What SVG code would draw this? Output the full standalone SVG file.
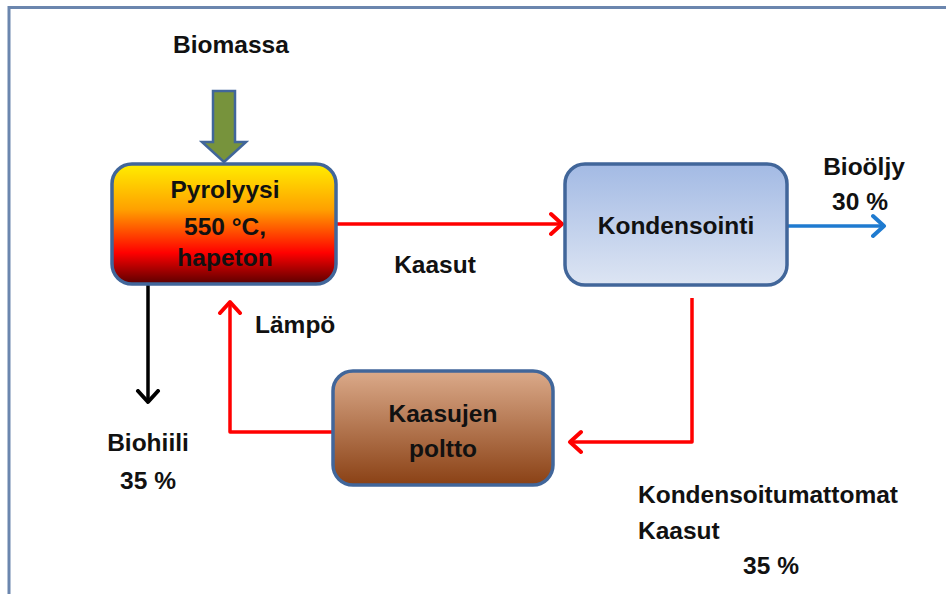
<svg xmlns="http://www.w3.org/2000/svg" width="946" height="594" viewBox="0 0 946 594">
<defs>
<linearGradient id="gPyro" x1="0" y1="0" x2="0" y2="1">
<stop offset="0" stop-color="#FFEE00"/>
<stop offset="0.38" stop-color="#FFA000"/>
<stop offset="0.74" stop-color="#FF0000"/>
<stop offset="1" stop-color="#5A0000"/>
</linearGradient>
<linearGradient id="gKond" x1="0" y1="0" x2="0" y2="1">
<stop offset="0" stop-color="#A3BAE4"/>
<stop offset="1" stop-color="#DDE5F3"/>
</linearGradient>
<linearGradient id="gPolt" x1="0" y1="0" x2="0" y2="1">
<stop offset="0" stop-color="#DBAA8A"/>
<stop offset="1" stop-color="#8A4115"/>
</linearGradient>
<marker id="aRed" markerUnits="userSpaceOnUse" markerWidth="26" markerHeight="26" refX="13" refY="13" orient="auto" viewBox="0 0 26 26">
<path d="M2,3 L13,13 L2,23" fill="none" stroke="#FF0000" stroke-width="4" stroke-linecap="round" stroke-linejoin="round"/>
</marker>
<marker id="aBlue" markerUnits="userSpaceOnUse" markerWidth="26" markerHeight="26" refX="13" refY="13" orient="auto" viewBox="0 0 26 26">
<path d="M2,3 L13,13 L2,23" fill="none" stroke="#1F7BD0" stroke-width="4" stroke-linecap="round" stroke-linejoin="round"/>
</marker>
<marker id="aBlack" markerUnits="userSpaceOnUse" markerWidth="26" markerHeight="26" refX="13" refY="13" orient="auto" viewBox="0 0 26 26">
<path d="M2,3 L13,13 L2,23" fill="none" stroke="#000" stroke-width="4" stroke-linecap="round" stroke-linejoin="round"/>
</marker>
</defs>
<style>
.t{font-family:"Liberation Sans",Arial,sans-serif;font-weight:bold;font-size:24.5px;fill:#111;}
.m{text-anchor:middle;}
.box{stroke:#41669A;stroke-width:3.5;}
.c{fill:none;stroke-width:3.5;stroke-linejoin:round;}
</style>
<rect x="0" y="0" width="946" height="594" fill="#fff"/>
<rect x="9" y="7.5" width="960" height="620" fill="none" stroke="#6B86AE" stroke-width="3"/>

<g id="connectors">
<path class="c" d="M337,224 L562,224" stroke="#FF0000" marker-end="url(#aRed)"/>
<path class="c" d="M787,226 L884,226" stroke="#1F7BD0" marker-end="url(#aBlue)"/>
<path class="c" d="M692,298 L692,442 L570,442" stroke="#FF0000" marker-end="url(#aRed)"/>
<path class="c" d="M333,432 L230,432 L230,302" stroke="#FF0000" marker-end="url(#aRed)"/>
<path class="c" d="M148,285 L148,402" stroke="#000" marker-end="url(#aBlack)"/>
</g>

<g id="biomassa">
<text class="t m" x="231" y="53">Biomassa</text>
<path d="M213,91 L235,91 L235,142 L246,142 L224,162 L202,142 L213,142 Z" fill="#77933C" stroke="#41669A" stroke-width="2.5" stroke-linejoin="miter"/>
</g>

<g id="pyrolyysi">
<rect class="box" x="112" y="164" width="224" height="120" rx="20" fill="url(#gPyro)"/>
<text class="t m" x="225" y="198">Pyrolyysi</text>
<text class="t m" x="225" y="235">550 °C,</text>
<text class="t m" x="225" y="266">hapeton</text>
</g>

<g id="kondensointi">
<rect class="box" x="565" y="164" width="222" height="121" rx="20" fill="url(#gKond)"/>
<text class="t m" x="676" y="234">Kondensointi</text>
</g>

<g id="poltto">
<rect class="box" x="333" y="371" width="220" height="114" rx="20" fill="url(#gPolt)"/>
<text class="t m" x="443" y="422">Kaasujen</text>
<text class="t m" x="443" y="457">poltto</text>
</g>

<g id="labels">
<text class="t m" x="864" y="175">Bioöljy</text>
<text class="t m" x="860" y="210">30 %</text>
<text class="t m" x="435" y="273">Kaasut</text>
<text class="t" x="255" y="333">Lämpö</text>
<text class="t m" x="148" y="451">Biohiili</text>
<text class="t m" x="148" y="489">35 %</text>
<text class="t" x="638" y="503">Kondensoitumattomat</text>
<text class="t" x="638" y="539">Kaasut</text>
<text class="t m" x="771" y="574">35 %</text>
</g>
</svg>
